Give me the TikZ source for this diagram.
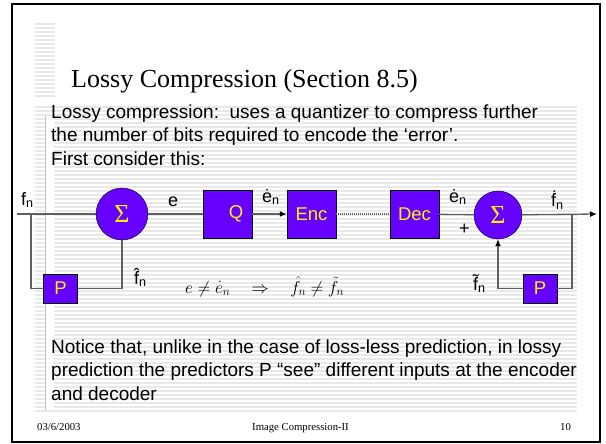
\documentclass[tikz,border=0pt]{standalone}
\usepackage{fontspec}
\setmainfont{Liberation Sans}
\newfontfamily\tnr{Liberation Serif}
\usetikzlibrary{arrows.meta}
\definecolor{blockfill}{RGB}{102,0,255}
\definecolor{stripe}{RGB}{232,232,232}
\definecolor{wirec}{RGB}{95,95,95}
\newcommand{\idx}[1]{\textsubscript{#1}}
\begin{document}
\begin{tikzpicture}[x=1pt,y=-1pt,
    blk/.style={draw=black,fill=blockfill,text=yellow,minimum width=49pt,minimum height=48pt,
      inner sep=0pt,font=\fontsize{18.5}{20}\selectfont},
    pbox/.style={blk,minimum width=34pt,minimum height=29pt},
    sumnode/.style={circle,draw=black,fill=blockfill,text=yellow,minimum size=52pt,inner sep=0pt,
      font=\tnr\fontsize{26}{26}\selectfont},
    wire/.style={draw=wirec,line width=1.3pt},
    tip/.style={-{Latex[length=7pt,width=6pt,color=black]}},
    lbl/.style={font=\fontsize{18}{18}\selectfont,inner sep=0pt,anchor=base west},
    body/.style={font=\fontsize{19}{23.5}\selectfont,inner sep=0pt,anchor=base west,align=left},
    foot/.style={font=\tnr\fontsize{10.7}{11}\selectfont,inner sep=0pt,anchor=base west}]
  \useasboundingbox (0,0) rectangle (606,444);
  % page background and frame
  \fill[white] (0,0) rectangle (606,444);
  \foreach \yy in {24,28,...,96} \draw[stripe,line width=2pt] (35,\yy) -- (55,\yy);
  \foreach \yy in {107,111,...,411} \draw[stripe,line width=2pt] (35,\yy) -- (577,\yy);
  \fill[white] (46,116) rectangle (54,410);
  \draw[gray!50,line width=0.6pt] (45.5,116) -- (45.5,410);
  \draw[line width=2pt] (12,4) rectangle (600,442);
  % title and text (base = last line)
  \node[anchor=base west,inner sep=0pt,font=\tnr\fontsize{26}{26}\selectfont] (title) at (71,88) {Lossy Compression (Section 8.5)};
  \node[body] (intro) at (51,165) {Lossy compression:\ \ uses a quantizer to compress further\\
    the number of bits required to encode the ‘error’.\\First consider this:};
  \node[body] (notice) at (51,400) {Notice that, unlike in the case of loss-less prediction, in lossy\\
    prediction the predictors P “see” different inputs at the encoder\\and decoder};
  % blocks
  \coordinate (src) at (17,214);
  \coordinate (tapa) at (31,214);
  \node[sumnode] (sa) at (122,214) {Σ};
  \node[blk] (q) at (227.5,214) {\hspace*{17pt}Q};
  \node[blk] (enc) at (311.5,214) {Enc};
  \node[blk] (dec) at (414.5,214) {Dec};
  \node[sumnode,minimum size=48pt] (sb) at (498,215) {Σ};
  \coordinate (tapb) at (572,214);
  \coordinate (dst) at (597,214);
  \node[pbox] (pa) at (60.5,288.5) {P};
  \node[pbox] (pb) at (540,288.5) {P};
  % connectors
  \draw[wire] (src) -- (sa);
  \draw[wire] (sa) -- (q);
  \draw[wire,tip] (q) -- (enc);
  \draw[wire,dash pattern=on 1pt off 1pt] (enc) -- (dec);
  \draw[wire] (dec) -- (sb);
  \draw[wire,tip] (sb) -- (dst);
  \draw[wire] (tapb) |- (pb);
  \draw[wire,tip] (pb) -| (sb);
  \draw[wire] (tapa) |- (pa);
  \draw[wire] (pa) -| (sa);
  % labels
  \node[lbl] (lfn) at (21,205) {f\idx{n}};
  \node[lbl] (le) at (168,207) {e};
  \node[lbl] (len1) at (262,202) {\.{e}\idx{n}};
  \node[lbl] (len2) at (449,202) {\.{e}\idx{n}};
  \node[lbl] (lplus) at (459,234) {+};
  \node[lbl] (lfdot) at (551,207) {\.{f}\idx{n}};
  \node[lbl] (lfhat) at (134,284) {\^{f}\idx{n}};
  \node[lbl] (lftil) at (473,290) {\~{f}\idx{n}};
  \node[anchor=base west,inner sep=0pt,font=\fontsize{16.5}{17}\selectfont] (eqn) at (185,293)
    {$e \neq \dot{e}_n \quad\Rightarrow\quad \hat{f}_n \neq \tilde{f}_n$};
  % footer
  \node[foot] (date) at (37,430) {03/6/2003};
  \node[foot,anchor=base] (ftitle) at (300.5,430) {Image Compression-II};
  \node[foot] (page) at (560,430) {10};
\end{tikzpicture}
\end{document}
